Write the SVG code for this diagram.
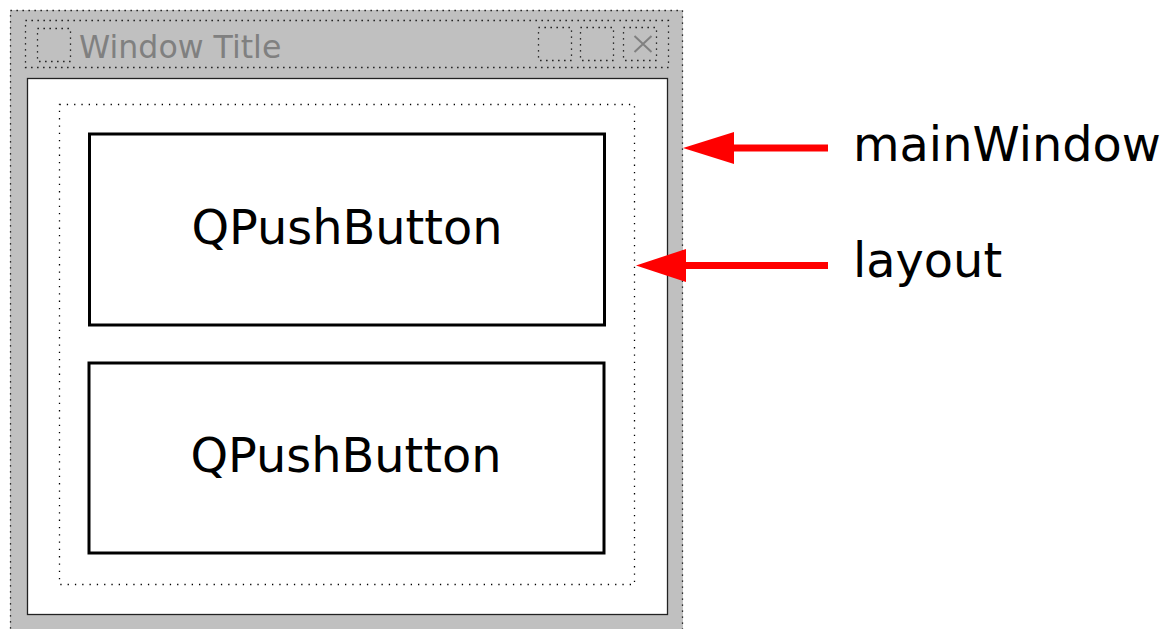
<svg xmlns="http://www.w3.org/2000/svg" width="1165" height="629" viewBox="0 0 1165 629">
  <style>
    .dot { fill: none; stroke: #000; stroke-width: 1.3; stroke-dasharray: 1.3 4.7; }
    .dotwide { fill: none; stroke: #000; stroke-width: 1.3; stroke-dasharray: 1.3 6; }
    .btn { fill: #fff; stroke: #000; stroke-width: 3; }
    .btntext { font-family: "DejaVu Sans", sans-serif; font-size: 47.8px; fill: #000; text-anchor: middle; }
    .label { font-family: "DejaVu Sans", sans-serif; font-size: 47.8px; fill: #000; }
    .title { font-family: "DejaVu Sans", sans-serif; font-size: 31.6px; fill: #808080; }
    .arrow { stroke: #ff0000; stroke-width: 7; fill: none; }
  </style>

  <rect width="1165" height="629" fill="#fff"/>

  <g id="mainWindow">
    <!-- window frame -->
    <rect x="10" y="10" width="673" height="630" fill="#c0c0c0"/>
    <rect x="10.5" y="10.5" width="672" height="630" class="dot"/>
    <!-- title bar -->
    <rect x="25.5" y="20.5" width="643" height="47" class="dot"/>
    <rect x="37.5" y="28.5" width="33" height="33" class="dot"/>
    <text x="79" y="58" class="title">Window Title</text>
    <rect x="538.5" y="27.5" width="33" height="33" class="dot"/>
    <rect x="580.5" y="27.5" width="33" height="33" class="dot"/>
    <rect x="623.5" y="27.5" width="33" height="33" class="dot"/>
    <path d="M634.5 36 L651.5 52 M651.5 36 L634.5 52" stroke="#808080" stroke-width="2" fill="none"/>
    <!-- client area -->
    <rect x="27.5" y="78.5" width="640" height="536" fill="#fff" stroke="#222" stroke-width="1.3"/>
  </g>

  <g id="layout">
    <rect x="59.5" y="104.5" width="575" height="480" class="dotwide"/>
  </g>

  <g id="button1">
    <rect x="89.5" y="134" width="515" height="191" class="btn"/>
    <text x="347" y="244" class="btntext">QPushButton</text>
  </g>

  <g id="button2">
    <rect x="89" y="363" width="515" height="190" class="btn"/>
    <text x="346" y="472" class="btntext">QPushButton</text>
  </g>

  <g id="connectors">
    <line x1="828" y1="148" x2="733" y2="148" class="arrow"/>
    <polygon points="683,148 734,132 734,164" fill="#ff0000"/>
    <line x1="828" y1="265.5" x2="685" y2="265.5" class="arrow"/>
    <polygon points="636,265.5 686,249 686,282" fill="#ff0000"/>
  </g>

  <g id="labels">
    <text x="853" y="161" class="label">mainWindow</text>
    <text x="853" y="277" class="label">layout</text>
  </g>
</svg>
